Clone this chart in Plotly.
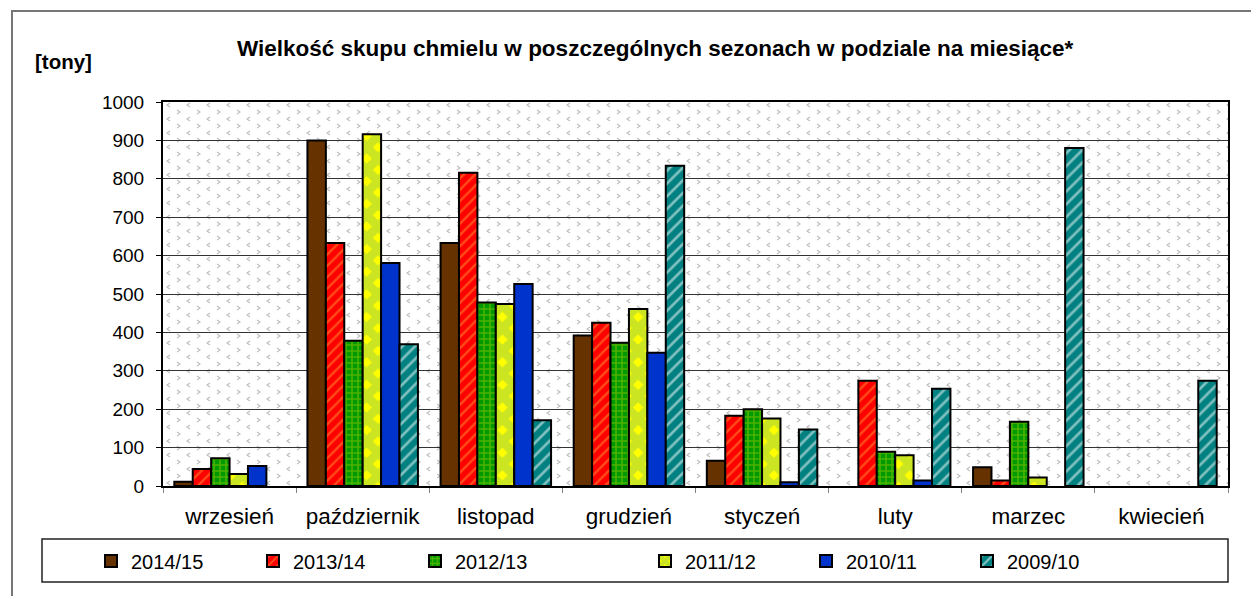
import base64
import plotly.graph_objects as go

months = ["wrzesień", "październik", "listopad", "grudzień", "styczeń", "luty", "marzec", "kwiecień"]
s2014_15 = [11, 900, 633, 392, 66, None, 49, None]
s2013_14 = [44, 633, 816, 425, 183, 274, 14, None]
s2012_13 = [72, 378, 478, 373, 200, 89, 167, None]
s2011_12 = [31, 916, 474, 461, 176, 80, 22, None]
s2010_11 = [52, 581, 526, 347, 10, 14, None, None]
s2009_10 = [None, 369, 171, 834, 147, 253, 880, 274]
y_ticks = [0, 100, 200, 300, 400, 500, 600, 700, 800, 900, 1000]

FONT = "Liberation Sans, Arial, sans-serif"

series = [
    ("2014/15", s2014_15, dict(color="#663300"), "legend"),
    ("2013/14", s2013_14, dict(color="#FF0000", pattern=dict(shape="/", fgcolor="#FF9933", size=8, solidity=0.3)), "legend"),
    ("2012/13", s2012_13, dict(color="#009900", pattern=dict(shape="+", fgcolor="#99CC00", size=6, solidity=0.45)), "legend"),
    ("2011/12", s2011_12, dict(color="#FFFF00", pattern=dict(shape="x", fgcolor="#99CC44", size=16, solidity=0.8)), "legend2"),
    ("2010/11", s2010_11, dict(color="#0033CC"), "legend2"),
    ("2009/10", s2009_10, dict(color="#008080", pattern=dict(shape="/", fgcolor="#FFFFFF", size=9, solidity=0.3)), "legend2"),
]

fig = go.Figure()
for name, vals, marker, lg in series:
    m = dict(marker)
    m["line"] = dict(color="#000000", width=2)
    fig.add_trace(go.Bar(x=months, y=vals, name=name, marker=m, legend=lg))

# chevron background texture
W, H = 1065, 384
svg = f'''<svg xmlns="http://www.w3.org/2000/svg" width="{W}" height="{H}">
<defs><pattern id="p" width="20" height="14" patternUnits="userSpaceOnUse">
<path d="M7,1 L4,3 L7,5" fill="none" stroke="#bdbdbd" stroke-width="1.1"/>
<path d="M14,8 L17,10 L14,12" fill="none" stroke="#bdbdbd" stroke-width="1.1"/>
</pattern></defs>
<rect width="{W}" height="{H}" fill="#ffffff"/>
<rect width="{W}" height="{H}" fill="url(#p)"/>
</svg>'''
src = "data:image/svg+xml;base64," + base64.b64encode(svg.encode()).decode()

fig.add_layout_image(dict(source=src, xref="paper", yref="paper", x=0, y=1, sizex=1, sizey=1,
                          sizing="stretch", xanchor="left", yanchor="top", layer="below"))

L, R, T, B = 163, 23, 102, 110
PW, PH = 1251 - L - R, 596 - T - B

def px(x):
    return (x - L) / PW

def py(y):
    return (596 - B - y) / PH

fig.update_layout(
    width=1251, height=596,
    margin=dict(l=L, r=R, t=T, b=B, autoexpand=False),
    paper_bgcolor="#ffffff",
    plot_bgcolor="rgba(0,0,0,0)",
    barmode="group",
    bargap=0.17,
    bargroupgap=0,
    font=dict(family=FONT, size=19, color="#000000"),
    legend=dict(orientation="h", x=px(91), xanchor="left", y=py(561), yanchor="middle",
                entrywidth=117, entrywidthmode="pixels", bgcolor="rgba(0,0,0,0)",
                font=dict(size=20), itemclick=False),
    legend2=dict(orientation="h", x=px(645), xanchor="left", y=py(561), yanchor="middle",
                 entrywidth=116, entrywidthmode="pixels", bgcolor="rgba(0,0,0,0)",
                 font=dict(size=20), itemclick=False),
    xaxis=dict(type="category", tickson="boundaries", ticks="outside", ticklen=5, tickcolor="#808080",
               showline=True, linecolor="#000000", linewidth=2, mirror=True, showgrid=False,
               tickfont=dict(size=22.5), ticklabelstandoff=9),
    yaxis=dict(range=[0, 1000], tickvals=y_ticks, ticks="outside", ticklen=5, tickcolor="#000000",
               showline=True, linecolor="#000000", linewidth=2, mirror=True,
               showgrid=True, gridcolor="#333333", gridwidth=1, zeroline=False,
               tickfont=dict(size=19), ticklabelstandoff=8),
    shapes=[
        dict(type="rect", xref="paper", yref="paper", x0=px(42), x1=px(1228), y0=py(582), y1=py(539),
             line=dict(color="#222222", width=1.5), fillcolor="rgba(0,0,0,0)", layer="below"),
        dict(type="rect", xref="paper", yref="paper", x0=px(12), x1=px(1262), y0=py(608), y1=py(11),
             line=dict(color="#777777", width=2), fillcolor="rgba(0,0,0,0)", layer="below"),
    ],
    annotations=[
        dict(text="<b>Wielkość skupu chmielu w poszczególnych sezonach w podziale na miesiące*</b>",
             xref="paper", yref="paper", x=px(655.5), y=py(48), xanchor="center", yanchor="middle",
             showarrow=False, font=dict(size=22.5)),
        dict(text="<b>[tony]</b>", xref="paper", yref="paper", x=px(33), y=py(62),
             xanchor="left", yanchor="middle", showarrow=False, font=dict(size=20.5)),
    ],
)

fig.write_html("out.html", config={"displayModeBar": False},
               post_script="document.body.style.margin='0';")
